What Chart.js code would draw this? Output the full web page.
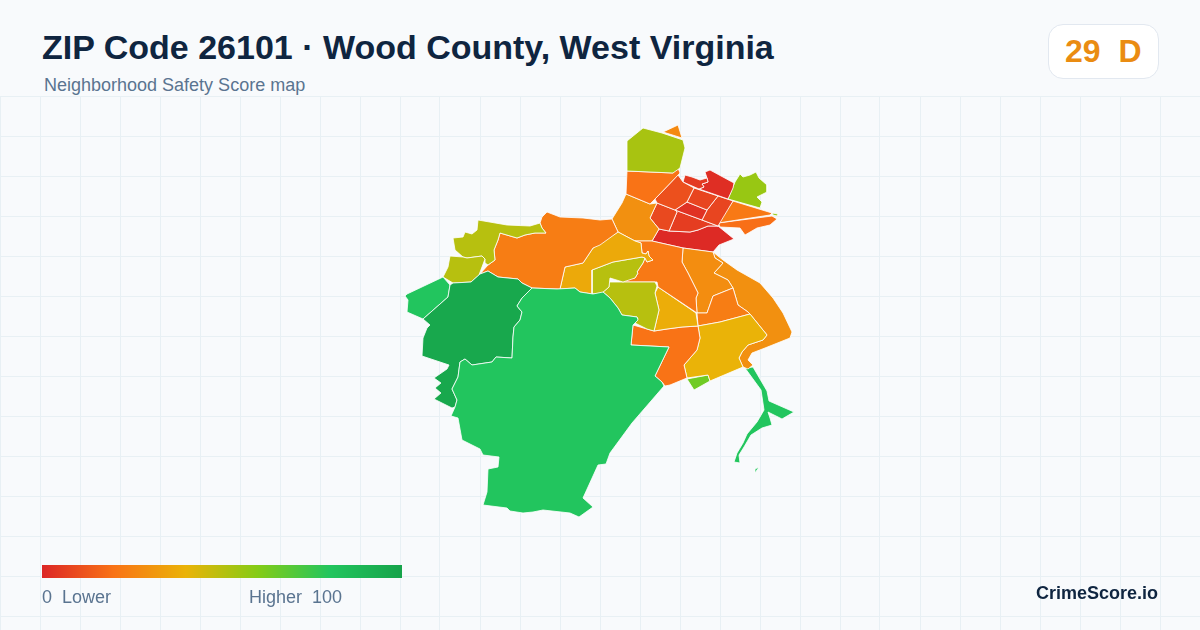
<!DOCTYPE html>
<html>
<head>
<meta charset="utf-8">
<title>ZIP Code 26101</title>
<script src="https://cdn.jsdelivr.net/npm/chart.js@4/dist/chart.umd.min.js"></script>
<style>
  html, body { margin: 0; padding: 0; }
  body { width: 1200px; height: 630px; position: relative; overflow: hidden; background: #f8fafc; font-family: "Liberation Sans", Arial, sans-serif; }
  canvas { position: absolute; left: 0; top: 96px; }
  .txt { position: absolute; white-space: pre; line-height: 1; }
  #title { left: 42px; top: 30px; font-size: 34px; font-weight: 700; color: #0f2540; }
  #subtitle { left: 44px; top: 76px; font-size: 18px; color: #5a7490; }
  #badge { position: absolute; left: 1048px; top: 24px; width: 109px; height: 53px; box-sizing: content-box; background: #fff; border: 1px solid #e2e8f0; border-radius: 15px; }
  #grade { left: 1065px; top: 35px; font-size: 32px; font-weight: 700; color: #ea8c12; }
  #bar { position: absolute; left: 42px; top: 565px; width: 360px; height: 13px; }
  #low { left: 42px; top: 588px; font-size: 18px; color: #5a7490; }
  #high { left: 249px; top: 588px; font-size: 18px; color: #5a7490; }
  #brand { right: 42px; top: 584px; font-size: 18px; font-weight: 700; color: #0f2540; }
</style>
</head>
<body>
<canvas id="map" width="1200" height="534"></canvas>
<div id="title" class="txt">ZIP Code 26101 · Wood County, West Virginia</div>
<div id="subtitle" class="txt">Neighborhood Safety Score map</div>
<div id="badge"></div>
<div id="grade" class="txt">29  D</div>
<div id="bar"></div>
<div id="low" class="txt">0  Lower</div>
<div id="high" class="txt">Higher  100</div>
<div id="brand" class="txt">CrimeScore.io</div>
<script>
// Legend scale
const scaleStops = [0, 20, 40, 60, 80, 100];
const scaleColors = ['#dc2626', '#f97316', '#eab308', '#84cc16', '#22c55e', '#16a34a'];

// Grid ticks
const gridX = [0, 40, 80, 120, 160, 200, 240, 280, 320, 360, 400, 440, 480, 520, 560, 600, 640, 680, 720, 760, 800, 840, 880, 920, 960, 1000, 1040, 1080, 1120, 1160, 1200];
const gridY = [96, 136, 176, 216, 256, 296, 336, 376, 416, 456, 496, 536, 576, 616];

// Safety score per neighborhood, same order as the outlines below
const zoneScores = [80, 97, 80, 50, 50, 23, 37, 50, 50, 22, 38, 20, 40, 64, 23, 28, 29, 80, 80, 53, 27, 20, 29, 11, 5, 2, 8, 3, 8, 9, 6, 1, 22, 19, 56, 57];

// Neighborhood outlines in map units
const zoneOutlines = [
  [[532,288],[557,289],[575,288],[580,292],[593,294],[603,292],[610,298],[618,308],[622,315],[637,317],[638,320],[633,325],[631,345],[669,347],[655,376],[662,382],[664,386],[632,423],[610,453],[606,464],[598,465],[583,498],[593,507],[579,517],[570,513],[543,510],[533,512],[523,513],[510,511],[507,508],[483,505],[487,492],[488,469],[498,467],[499,457],[483,455],[480,449],[462,440],[458,418],[451,416],[455,407],[457,400],[452,389],[458,377],[460,362],[465,359],[472,365],[492,362],[496,357],[512,358],[513,337],[514,327],[520,320],[522,312],[517,306],[522,298]],
  [[532,288],[522,283],[518,279],[498,277],[488,271],[480,274],[471,282],[453,283],[450,285],[448,297],[423,319],[430,325],[427,328],[423,338],[422,356],[449,365],[447,369],[434,378],[441,383],[435,388],[441,393],[434,399],[452,408],[455,407],[457,400],[452,389],[458,377],[460,362],[465,359],[472,365],[492,362],[496,357],[512,358],[513,337],[514,327],[520,320],[522,312],[517,306],[522,298]],
  [[443,277],[450,285],[448,297],[423,319],[407,312],[408,300],[405,296],[407,294]],
  [[450,256],[463,257],[467,258],[482,256],[485,259],[479,275],[471,282],[453,283],[443,277],[448,267]],
  [[478,220],[507,225],[530,226],[540,223],[542,228],[546,233],[535,233],[525,235],[517,238],[500,233],[498,240],[494,250],[495,260],[488,265],[485,263],[485,259],[482,256],[467,258],[463,257],[455,250],[453,238],[463,237],[465,232],[472,234],[477,230]],
  [[542,217],[547,212],[560,217],[583,218],[600,220],[612,219],[618,232],[600,245],[593,248],[583,263],[565,267],[560,289],[557,289],[532,288],[522,283],[518,279],[498,277],[488,271],[480,274],[488,265],[495,260],[494,250],[498,240],[500,233],[517,238],[525,235],[535,233],[546,233],[542,228],[540,223]],
  [[560,289],[565,267],[583,263],[593,248],[618,232],[635,241],[641,243],[642,253],[646,254],[648,251],[649,256],[653,260],[647,262],[645,258],[642,257],[613,262],[592,270],[592,294],[580,292],[575,288]],
  [[592,270],[613,262],[642,257],[645,258],[643,263],[637,272],[638,273],[635,278],[623,282],[610,278],[609,287],[602,293],[592,294]],
  [[603,292],[609,287],[609,282],[655,282],[657,286],[655,293],[659,310],[654,331],[647,329],[635,323],[638,319],[637,317],[622,315],[618,308],[610,298]],
  [[635,241],[652,241],[683,248],[682,262],[688,273],[698,293],[696,298],[697,313],[658,287],[657,282],[623,282],[610,278],[635,278],[638,273],[637,272],[643,263],[645,258],[647,262],[653,260],[649,256],[648,251],[646,254],[642,253],[641,243]],
  [[658,287],[696,313],[698,326],[682,327],[667,329],[654,331],[659,310],[655,293]],
  [[633,325],[647,329],[654,331],[667,329],[682,327],[698,326],[700,338],[697,350],[684,365],[687,378],[670,385],[665,386],[662,382],[655,376],[669,347],[631,345]],
  [[698,326],[720,322],[750,314],[767,335],[763,340],[748,345],[742,352],[739,358],[743,367],[710,381],[708,375],[687,378],[684,365],[697,350],[700,338]],
  [[687,379],[708,375],[710,381],[694,390]],
  [[697,313],[707,313],[713,296],[733,288],[738,305],[748,312],[750,314],[720,322],[698,326]],
  [[683,248],[713,252],[715,258],[723,263],[714,273],[728,280],[733,288],[713,296],[707,313],[697,313],[696,298],[698,293],[688,273],[682,262]],
  [[713,252],[723,260],[737,270],[760,283],[773,298],[783,313],[792,332],[790,338],[765,348],[752,353],[748,360],[753,365],[748,369],[743,367],[739,358],[742,352],[748,345],[763,340],[767,335],[750,314],[748,312],[738,305],[733,288],[728,280],[714,273],[723,263],[715,258]],
  [[745,368],[753,367],[767,391],[769,401],[794,412],[782,419],[768,412],[770,418],[772,425],[762,428],[751,435],[744,447],[739,455],[740,463],[734,462],[737,453],[743,443],[747,434],[757,422],[764,410],[761,390]],
  [[755,469],[759,467],[755,473]],
  [[627,141],[643,128],[662,133],[683,140],[685,148],[680,168],[673,173],[627,171]],
  [[663,132],[678,125],[682,138]],
  [[627,171],[673,173],[678,168],[680,173],[655,199],[650,204],[626,194]],
  [[626,194],[650,204],[657,203],[650,218],[659,229],[652,241],[635,241],[618,232],[612,219],[622,203]],
  [[678,175],[683,182],[694,188],[687,202],[675,210],[657,203],[655,199]],
  [[685,175],[692,177],[700,180],[707,178],[708,182],[702,184],[704,187],[699,189],[683,182]],
  [[705,172],[710,170],[734,183],[733,188],[728,199],[699,189],[704,187],[702,184],[708,182],[707,178]],
  [[694,188],[718,196],[707,210],[687,202]],
  [[687,202],[707,210],[702,220],[675,210]],
  [[718,196],[733,201],[718,226],[702,220],[707,210]],
  [[657,203],[675,210],[677,212],[669,231],[659,229],[650,218]],
  [[677,212],[675,210],[702,220],[718,226],[708,226],[698,230],[690,232],[669,231]],
  [[659,229],[669,231],[690,232],[698,230],[708,226],[718,226],[734,239],[719,245],[713,252],[683,248],[652,241]],
  [[733,201],[772,213],[770,215],[718,223]],
  [[718,223],[772,216],[777,219],[770,225],[757,228],[745,235],[740,228],[720,227]],
  [[728,199],[735,182],[740,174],[743,177],[750,175],[756,172],[759,178],[767,185],[767,192],[757,197],[762,202],[760,208]],
  [[772,213],[778,214],[777,216],[773,215]]
];

// Score to colour, same ramp as the legend bar
function hexToRgb(hex) {
  return [1, 3, 5].map(i => parseInt(hex.slice(i, i + 2), 16));
}

function scoreColor(score) {
  let i = 0;
  while (i < scaleStops.length - 2 && score > scaleStops[i + 1]) i++;
  const t = (score - scaleStops[i]) / (scaleStops[i + 1] - scaleStops[i]);
  const a = hexToRgb(scaleColors[i]);
  const b = hexToRgb(scaleColors[i + 1]);
  return `rgb(${a.map((v, k) => Math.round(v + (b[k] - v) * t)).join(',')})`;
}

document.getElementById('bar').style.background = 'linear-gradient(to right, ' +
  scaleColors.map((c, i) => `${c} ${scaleStops[i]}%`).join(', ') + ')';

const datasets = zoneOutlines.map((outline, i) => ({
  data: outline.concat([outline[0]]).map(p => ({ x: p[0], y: p[1] })),
  showLine: true,
  fill: 'shape',
  tension: 0,
  pointRadius: 0,
  borderWidth: 0.8,
  borderColor: '#ffffff',
  borderJoinStyle: 'round',
  backgroundColor: scoreColor(zoneScores[i])
}));

new Chart(document.getElementById('map'), {
  type: 'scatter',
  data: { datasets: datasets },
  options: {
    responsive: false,
    animation: false,
    layout: { padding: 0 },
    plugins: { legend: { display: false }, tooltip: { enabled: false } },
    scales: {
      x: {
        type: 'linear',
        min: 0,
        max: 1200,
        afterBuildTicks: axis => { axis.ticks = gridX.map(v => ({ value: v })); },
        ticks: { display: false },
        border: { display: false },
        grid: { color: '#e8f0f4', lineWidth: 1, drawTicks: false }
      },
      y: {
        type: 'linear',
        reverse: true,
        min: 96,
        max: 630,
        afterBuildTicks: axis => { axis.ticks = gridY.map(v => ({ value: v })); },
        ticks: { display: false },
        border: { display: false },
        grid: { color: '#e8f0f4', lineWidth: 1, drawTicks: false }
      }
    }
  }
});
</script>
</body>
</html>
